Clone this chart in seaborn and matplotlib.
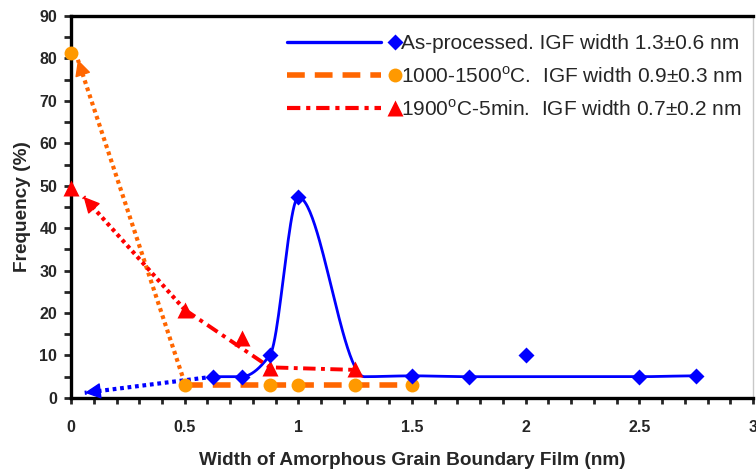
import matplotlib
matplotlib.use("Agg")
import matplotlib.pyplot as plt
import numpy as np
import seaborn as sns
from matplotlib.lines import Line2D
from matplotlib.legend_handler import HandlerLine2D
from matplotlib.ticker import MultipleLocator

# data
as_x = [0.625, 0.75, 0.875, 1.0, 1.5, 1.75, 2.0, 2.5, 2.75]
as_y = [5.0, 5.0, 10.1, 47.3, 5.2, 5.0, 10.1, 5.0, 5.2]
# knots of the smoothed as-processed curve (the 2.0 point is off the curve)
as_curve_x = [0.625, 0.75, 0.875, 1.0, 1.29, 1.5, 1.75, 2.5, 2.75]
as_curve_y = [5.0, 5.0, 10.1, 47.3, 5.0, 5.2, 5.0, 5.0, 5.2]
as_arrow_x = [0.625, 0.06]
as_arrow_y = [5.0, 1.2]

mid_x = [0.0, 0.5, 0.875, 1.0, 1.25, 1.5]
mid_y = [81.4, 3.0, 3.0, 3.0, 3.0, 3.0]
mid_line_x = [0.5, 1.5]
mid_line_y = [3.0, 3.0]
mid_arrow_x = [0.5, 0.03]
mid_arrow_y = [3.5, 79.7]

hot_x = [0.0, 0.5, 0.75, 0.875, 1.25]
hot_y = [49.5, 20.8, 14.1, 7.0, 6.8]
hot_line_x = [0.5, 0.875, 1.25]
hot_line_y = [20.8, 7.2, 6.6]
hot_arrow_x = [0.5, 0.055]
hot_arrow_y = [20.8, 47.4]

x_ticks = [0, 0.5, 1, 1.5, 2, 2.5, 3]
x_tick_labels = ["0", "0.5", "1", "1.5", "2", "2.5", "3"]
y_ticks = [0, 10, 20, 30, 40, 50, 60, 70, 80, 90]

labels = [
    "As-processed. IGF width 1.3±0.6 nm",
    r"1000-1500$^\mathrm{o}$C.  IGF width 0.9±0.3 nm",
    r"1900$^\mathrm{o}$C-5min.  IGF width 0.7±0.2 nm",
]

BLUE = "#0000FF"
ORANGE = "#FF6600"
AMBER = "#FF9900"
RED = "#FF0000"

sns.set_style("ticks")
plt.rcParams["font.family"] = ["Liberation Sans", "DejaVu Sans"]
plt.rcParams["mathtext.fontset"] = "custom"
plt.rcParams["mathtext.rm"] = "Liberation Sans"


def pchip(xk, yk, n=400):
    xk = np.asarray(xk, float)
    yk = np.asarray(yk, float)
    h = np.diff(xk)
    d = np.diff(yk) / h
    m = np.zeros_like(yk)
    for i in range(1, len(xk) - 1):
        if d[i - 1] * d[i] > 0:
            w1 = 2 * h[i] + h[i - 1]
            w2 = h[i] + 2 * h[i - 1]
            m[i] = (w1 + w2) / (w1 / d[i - 1] + w2 / d[i])
    m[0] = d[0] if d[0] * d[1] > 0 else 0
    m[-1] = d[-1] if d[-1] * d[-2] > 0 else 0
    xs = np.linspace(xk[0], xk[-1], n)
    idx = np.clip(np.searchsorted(xk, xs) - 1, 0, len(h) - 1)
    t = (xs - xk[idx]) / h[idx]
    h00 = 2 * t**3 - 3 * t**2 + 1
    h10 = t**3 - 2 * t**2 + t
    h01 = -2 * t**3 + 3 * t**2
    h11 = t**3 - t**2
    ys = h00 * yk[idx] + h10 * h[idx] * m[idx] + h01 * yk[idx + 1] + h11 * h[idx] * m[idx + 1]
    return xs, ys


class EndMarkerHandler(HandlerLine2D):
    def create_artists(self, legend, orig_handle, xdescent, ydescent, width, height, fontsize, trans):
        y = (height - ydescent) / 2
        line = Line2D([-xdescent, -xdescent + width * 0.87], [y, y])
        self.update_prop(line, orig_handle, legend)
        line.set_marker("")
        mark = Line2D([-xdescent + width], [y])
        self.update_prop(mark, orig_handle, legend)
        mark.set_linestyle("")
        line.set_transform(trans)
        mark.set_transform(trans)
        return [line, mark]


fig, ax = plt.subplots(figsize=(7.56, 4.72), dpi=100)
fig.subplots_adjust(left=0.094, right=0.996, top=0.966, bottom=0.157)
ax.set_xlim(0, 3)
ax.set_ylim(0, 90)

# dotted arrows: dotted shaft + solid head
for arr_x, arr_y, col in [(as_arrow_x, as_arrow_y, BLUE), (mid_arrow_x, mid_arrow_y, ORANGE),
                          (hot_arrow_x, hot_arrow_y, RED)]:
    ax.plot(arr_x, arr_y, color=col, lw=3.0, dashes=(0.9, 0.9), zorder=3)
    p0 = ax.transData.transform((arr_x[0], arr_y[0]))
    p1 = ax.transData.transform((arr_x[1], arr_y[1]))
    u = (p1 - p0) / np.hypot(*(p1 - p0))
    back = ax.transData.inverted().transform(p1 - 14 * u)
    ax.annotate("", xy=(arr_x[1], arr_y[1]), xytext=tuple(back),
                arrowprops=dict(arrowstyle="-|>,head_length=1.0,head_width=0.5", color=col,
                                lw=1.0, shrinkA=0, shrinkB=0),
                zorder=3)

cx, cy = pchip(as_curve_x, as_curve_y)
sns.lineplot(x=cx, y=cy, ax=ax, color=BLUE, lw=2.0, sort=False, estimator=None, zorder=4)
sns.lineplot(x=mid_line_x, y=mid_line_y, ax=ax, color=ORANGE, lw=4.0, sort=False, estimator=None,
             zorder=4)
ax.lines[-1].set_dashes((3.2, 1.8))
sns.lineplot(x=hot_line_x, y=hot_line_y, ax=ax, color=RED, lw=2.8, sort=False, estimator=None,
             zorder=4)
ax.lines[-1].set_dashes((3.2, 1.4, 1.0, 1.4))

ax.plot(mid_x, mid_y, "o", color=AMBER, ms=10, mec="none", clip_on=False, zorder=5)
ax.plot(hot_x, hot_y, "^", color=RED, ms=11, mec="none", clip_on=False, zorder=6)
ax.plot(as_x, as_y, "D", color=BLUE, ms=8.5, mec="none", clip_on=False, zorder=7)

ax.set_xticks(x_ticks)
ax.set_xticklabels(x_tick_labels)
ax.set_yticks(y_ticks)
ax.xaxis.set_minor_locator(MultipleLocator(0.1))
ax.yaxis.set_minor_locator(MultipleLocator(5))
ax.tick_params(axis="x", which="both", length=4, width=2, pad=12, labelsize=11.5, direction="out")
ax.tick_params(axis="y", which="both", length=5, width=2, pad=5, labelsize=11.5, direction="out")
for lab in ax.get_xticklabels() + ax.get_yticklabels():
    lab.set_fontweight("bold")
for side in ["left", "bottom", "top"]:
    ax.spines[side].set_linewidth(2.4)
    ax.spines[side].set_color("black")
ax.spines["right"].set_linewidth(1.0)
ax.spines["right"].set_color("#C8C8C8")

ax.set_xlabel("Width of Amorphous Grain Boundary Film (nm)", fontsize=13.7, fontweight="bold",
              labelpad=12)
ax.set_ylabel("Frequency (%)", fontsize=13.7, fontweight="bold", labelpad=6)

handles = [
    Line2D([], [], color=BLUE, lw=2.4, marker="D", ms=8.5, mec="none"),
    Line2D([], [], color=ORANGE, lw=4.0, dashes=(3.2, 1.8), marker="o", ms=10, mfc=AMBER, mec="none"),
    Line2D([], [], color=RED, lw=3.0, dashes=(3.2, 1.4, 1.0, 1.4), marker="^", ms=11, mec="none"),
]
ax.legend(handles, labels, loc="upper left", bbox_to_anchor=(0.298, 0.985), frameon=False,
          fontsize=15, handlelength=5.2, handletextpad=0.3, labelspacing=0.6, borderaxespad=0.2,
          handler_map={Line2D: EndMarkerHandler()})

fig.savefig("out.png", dpi=100)
